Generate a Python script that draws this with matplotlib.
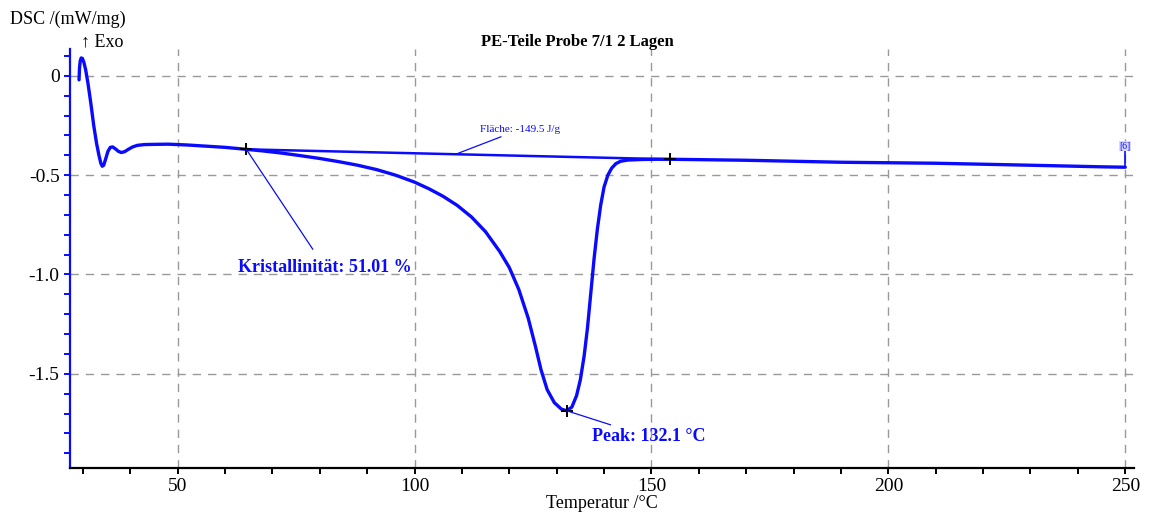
import matplotlib
matplotlib.use('Agg')
import matplotlib.pyplot as plt
from matplotlib.ticker import MultipleLocator

temp = [29.2, 29.3, 29.45, 29.65, 29.9, 30.2, 30.6, 31.1, 31.7, 32.3, 32.9, 33.4,
        33.8, 34.1, 34.4, 34.8, 35.3, 35.8, 36.3, 36.9, 37.5, 38.1, 38.8, 39.6,
        40.5, 41.5, 43.0, 45.0, 48.0, 52.0, 56.0, 60.0, 64.5,
        68.0, 72.0, 76.0, 80.0, 84.0, 88.0, 92.0, 96.0, 100.0, 103.0, 106.0,
        109.0, 112.0, 115.0, 118.0, 120.0, 122.0, 124.0, 125.5, 126.7, 128.0,
        129.5, 131.0, 132.1, 133.2, 134.2, 135.0, 135.8, 136.5, 137.2, 137.9,
        138.6, 139.3, 140.0, 140.8, 141.6, 142.5, 143.5, 145.0, 148.0, 151.0,
        154.0, 170.0, 190.0, 210.0, 230.0, 245.0, 250.0]
dsc = [-0.02, 0.04, 0.075, 0.09, 0.088, 0.07, 0.03, -0.04, -0.14, -0.25, -0.34, -0.40,
       -0.44, -0.455, -0.45, -0.42, -0.38, -0.36, -0.358, -0.368, -0.38, -0.386, -0.382, -0.37,
       -0.358, -0.35, -0.346, -0.345, -0.344, -0.348, -0.354, -0.36, -0.37,
       -0.378, -0.389, -0.402, -0.416, -0.432, -0.45, -0.472, -0.50, -0.535, -0.568, -0.606,
       -0.652, -0.710, -0.785, -0.885, -0.965, -1.075, -1.22, -1.36, -1.48, -1.58,
       -1.645, -1.678, -1.686, -1.668, -1.61, -1.53, -1.41, -1.27, -1.095, -0.92,
       -0.77, -0.65, -0.56, -0.50, -0.465, -0.442, -0.43, -0.424, -0.421, -0.42,
       -0.42, -0.425, -0.435, -0.44, -0.45, -0.458, -0.46]

# integration baseline for the peak area
base_t = [64.5, 154.0]
base_y = [-0.37, -0.42]

# evaluation marks: crystallinity start, peak, end
mark_t = [64.5, 132.1, 154.0]
mark_y = [-0.37, -1.686, -0.42]

plt.rcParams['font.family'] = ['Liberation Serif', 'DejaVu Serif']
blue = '#0a0aff'

fig = plt.figure(figsize=(11.5, 5.14), dpi=100)
ax = fig.add_axes([0.0609, 0.090, 0.925, 0.815])

ax.plot(temp, dsc, color=blue, lw=2.4, solid_joinstyle='round', solid_capstyle='round')
ax.plot(base_t, base_y, color=blue, lw=1.8)
ax.plot(mark_t, mark_y, '+', color='black', ms=9, mew=1.4)

# segment end marker [6]
ax.plot([250, 250], [-0.46, -0.375], color=blue, lw=1.2)
ax.text(250, -0.355, '[6]', color=blue, fontsize=7, ha='center', va='center',
        bbox=dict(boxstyle='square,pad=0.05', fc='#d8d8ff', ec='none'))

ax.annotate('Fläche: -149.5 J/g', xy=(109.2, -0.39), xytext=(113.8, -0.27),
            color=blue, fontsize=8, va='center', ha='left',
            arrowprops=dict(arrowstyle='-', color=blue, lw=0.9, shrinkA=0, shrinkB=0))
ax.annotate('Kristallinität: 51.01 %', xy=(64.5, -0.37), xytext=(81.1, -0.965),
            color=blue, fontsize=13, fontweight='bold', ha='center', va='center',
            arrowprops=dict(arrowstyle='-', color=blue, lw=0.9, shrinkA=6, shrinkB=0))
ax.annotate('Peak: 132.1 °C', xy=(132.1, -1.686), xytext=(137.4, -1.818),
            color=blue, fontsize=13, fontweight='bold', ha='left', va='center',
            arrowprops=dict(arrowstyle='-', color=blue, lw=0.9, shrinkA=2, shrinkB=0))

ax.set_xlim(27.3, 251.8)
ax.set_ylim(-1.973, 0.136)
ax.xaxis.set_major_locator(MultipleLocator(50))
ax.xaxis.set_minor_locator(MultipleLocator(10))
ax.yaxis.set_major_locator(MultipleLocator(0.5))
ax.yaxis.set_minor_locator(MultipleLocator(0.1))
ax.yaxis.set_major_formatter(plt.FuncFormatter(lambda v, p: '0' if abs(v) < 1e-9 else '%.1f' % v))

ax.grid(True, which='major', color='#999999', ls=(0, (6, 5)), lw=1.0)
for s in ['top', 'right']:
    ax.spines[s].set_visible(False)
ax.spines['left'].set_color(blue)
ax.spines['left'].set_linewidth(1.6)
ax.spines['bottom'].set_color('black')
ax.spines['bottom'].set_linewidth(1.6)
ax.tick_params(axis='y', which='both', colors=blue, labelcolor='black', direction='out',
               length=4, width=1.4, labelsize=14)
ax.tick_params(axis='x', which='both', direction='out', length=4, width=1.4, labelsize=14)

fig.text(0.502, 0.918, 'PE-Teile Probe 7/1 2 Lagen', ha='center', va='center',
         fontsize=12, fontweight='bold')
fig.text(0.009, 0.963, 'DSC /(mW/mg)', ha='left', va='center', fontsize=13)
fig.text(0.070, 0.918, '↑ Exo', ha='left', va='center', fontsize=13)
ax.set_xlabel('Temperatur /°C', fontsize=13, labelpad=0)

fig.savefig('out.png', dpi=100)
